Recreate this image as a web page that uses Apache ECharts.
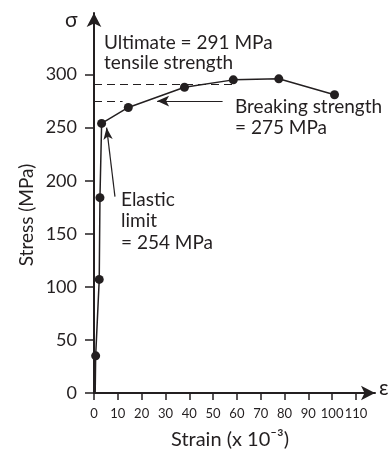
<!DOCTYPE html>
<html>
<head>
<meta charset="utf-8">
<script src="https://cdn.jsdelivr.net/npm/echarts@6/dist/echarts.min.js"></script>
<style>
html, body { margin: 0; padding: 0; background: #fff; }
#main { width: 390px; height: 453px; }
</style>
</head>
<body>
<div id="main"></div>
<script>
// strain (x 10^-3) and stress (MPa)
var strain = [0.5, 0.7, 2.2, 2.5, 3.2, 14.4, 38, 58.5, 77.6, 101];
var stress = [0, 35, 107, 184, 254, 269, 288, 295, 296, 281];
var xTicks = [0, 10, 20, 30, 40, 50, 60, 70, 80, 90, 100, 110];
var yTicks = [0, 50, 100, 150, 200, 250, 300];
var ultimate = 291;   // MPa
var breaking = 275;   // MPa
var elastic = 254;    // MPa

var ink = '#231f20';
var font = 'Lato';

var pts = [];
for (var i = 0; i < strain.length; i++) {
	if (i == 0) pts.push({ value: [strain[i], stress[i]], symbol: 'none' });
	else pts.push([strain[i], stress[i]]);
}

var myChart = echarts.init(document.getElementById('main'));
myChart.setOption({
	animation: false,
	grid: { left: 94, right: 15, top: 13, bottom: 60 },
	xAxis: {
		type: 'value', min: 0, max: 118,
		splitLine: { show: false },
		axisLine: { lineStyle: { color: ink, width: 2 }, symbol: ['none', 'arrow'], symbolSize: [11, 14] },
		axisTick: { customValues: xTicks, length: 7, lineStyle: { color: ink, width: 1.5 } },
		axisLabel: { customValues: xTicks, color: ink, fontFamily: font, fontSize: 13, margin: 14 }
	},
	yAxis: {
		type: 'value', min: 0, max: 358,
		splitLine: { show: false },
		axisLine: { lineStyle: { color: ink, width: 2 }, symbol: ['none', 'arrow'], symbolSize: [11, 14] },
		axisTick: { customValues: yTicks, length: 9, lineStyle: { color: ink, width: 1.5 } },
		axisLabel: { customValues: yTicks, color: ink, fontFamily: font, fontSize: 18, margin: 17 }
	},
	series: [{
		type: 'line',
		data: pts,
		symbol: 'circle',
		symbolSize: 9,
		itemStyle: { color: ink },
		lineStyle: { color: ink, width: 1.5 },
		markLine: {
			silent: true,
			symbol: 'none',
			label: { show: false },
			lineStyle: { color: ink, width: 1.2, type: [8, 5] },
			data: [
				[{ coord: [0, ultimate] }, { coord: [58, ultimate] }],
				[{ coord: [0, breaking] }, { coord: [12, breaking] }],
				[{ coord: [54, breaking], symbol: 'none' }, { coord: [26.5, breaking], symbol: 'arrow', symbolSize: [8, 12], lineStyle: { type: 'solid' } }],
				[{ coord: [8.8, 185], symbol: 'none' }, { coord: [5.3, 250], symbol: 'arrow', symbolSize: [7, 12], lineStyle: { type: 'solid' } }]
			]
		}
	}],
	graphic: [
		{ type: 'text', left: 65, top: 10, style: { text: 'σ', font: '21px ' + font, fill: ink } },
		{ type: 'text', left: 379, top: 378, style: { text: 'ε', font: '21px ' + font, fill: ink } },
		{ type: 'text', left: 104, top: 33, style: { text: 'Ultimate = ' + ultimate + ' MPa\ntensile strength', font: '19px ' + font, fill: ink, lineHeight: 20 } },
		{ type: 'text', left: 235, top: 96, style: { text: 'Breaking strength\n= ' + breaking + ' MPa', font: '19px ' + font, fill: ink, lineHeight: 21 } },
		{ type: 'text', left: 121, top: 189, style: { text: 'Elastic\nlimit\n= ' + elastic + ' MPa', font: '19px ' + font, fill: ink, lineHeight: 21.5 } },
		{ type: 'text', x: 27, y: 215, rotation: Math.PI / 2, style: { text: 'Stress (MPa)', font: '19px ' + font, fill: ink, align: 'center', verticalAlign: 'middle' } },
		{ type: 'text', x: 230, y: 440, style: { text: 'Strain (x 10⁻³)', font: '20px ' + font, fill: ink, align: 'center', verticalAlign: 'middle' } }
	]
});
</script>
</body>
</html>
